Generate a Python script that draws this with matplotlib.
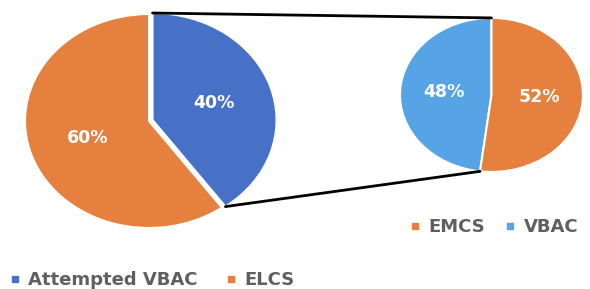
import numpy as np
import matplotlib
matplotlib.use("Agg")
import matplotlib.pyplot as plt
from matplotlib.lines import Line2D
from matplotlib.patches import ConnectionPatch

# main pie
main_labels = ["Attempted VBAC", "ELCS"]
main_values = [40, 60]
main_colors = ["#4671C6", "#E5803E"]

# secondary pie (breakdown of attempted VBAC)
sub_labels = ["VBAC", "EMCS"]
sub_values = [48, 52]
sub_colors = ["#56A3E6", "#E5803E"]

fig = plt.figure(figsize=(5.9, 2.89), dpi=100)

# pies are stretched into ellipses, so axes use aspect auto
ax1 = fig.add_axes([0.0424, 0.211, 0.4203, 0.7405])
ax2 = fig.add_axes([0.678, 0.405, 0.310, 0.533])

pct_text = dict(color="white", fontsize=12.5, fontweight="bold")

wedges1, _, _ = ax1.pie(
    main_values, colors=main_colors, startangle=90, counterclock=False,
    explode=[0.03, 0], autopct="%d%%", pctdistance=0.52,
    wedgeprops=dict(edgecolor="white", linewidth=1.5),
    textprops=pct_text,
)
wedges2, _, _ = ax2.pie(
    sub_values, colors=sub_colors, startangle=90, counterclock=True,
    autopct="%d%%", pctdistance=0.52,
    wedgeprops=dict(edgecolor="white", linewidth=1.5),
    textprops=pct_text,
)

for ax in (ax1, ax2):
    ax.set_aspect("auto")
    ax.set_xlim(-1, 1)
    ax.set_ylim(-1, 1)
    ax.axis("off")

# connector lines between the attempted VBAC wedge and the sub pie
w1 = wedges1[0]
w2 = wedges2[0]
for a1, a2 in [(w1.theta2, w2.theta1), (w1.theta1, w2.theta2)]:
    p1 = (w1.center[0] + w1.r * np.cos(np.radians(a1)),
          w1.center[1] + w1.r * np.sin(np.radians(a1)))
    p2 = (w2.center[0] + w2.r * np.cos(np.radians(a2)),
          w2.center[1] + w2.r * np.sin(np.radians(a2)))
    con = ConnectionPatch(xyA=p1, coordsA=ax1.transData,
                          xyB=p2, coordsB=ax2.transData,
                          color="black", linewidth=2)
    fig.add_artist(con)


def marker_handles(colors):
    return [Line2D([], [], linestyle="none", marker="s", markersize=5,
                   markerfacecolor=c, markeredgecolor=c) for c in colors]


legend_style = dict(frameon=False, ncol=2, loc="center left",
                    borderaxespad=0, borderpad=0, handlelength=0.6,
                    handletextpad=0.45, labelcolor="#5f5f5f",
                    prop=dict(size=13, weight="bold"))

fig.legend(marker_handles(main_colors), main_labels,
           bbox_to_anchor=(0.016, 0.03), columnspacing=1.55, **legend_style)
fig.legend(marker_handles([sub_colors[1], sub_colors[0]]),
           [sub_labels[1], sub_labels[0]],
           bbox_to_anchor=(0.694, 0.215), columnspacing=1.1, **legend_style)

fig.savefig("out.png", dpi=100)
